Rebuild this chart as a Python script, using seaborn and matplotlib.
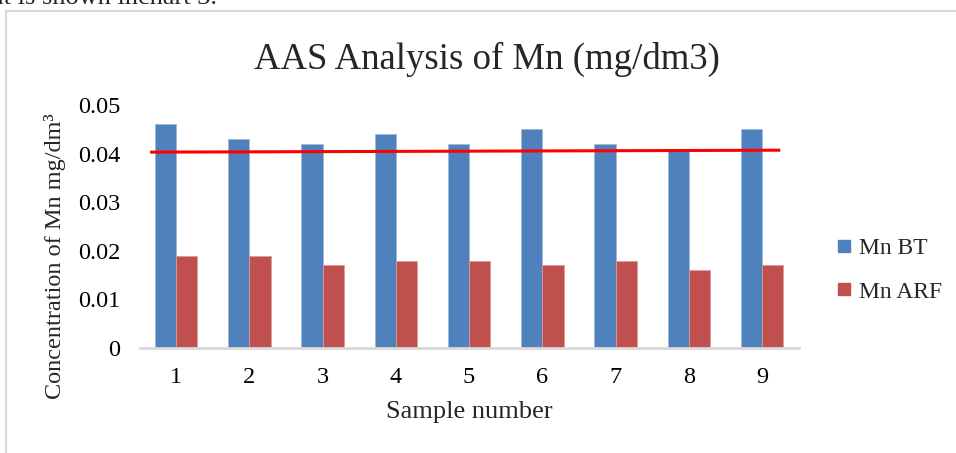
import matplotlib
matplotlib.use("Agg")
import matplotlib.pyplot as plt
import seaborn as sns
import pandas as pd
from matplotlib.lines import Line2D

# ---- data ----
samples = ["1", "2", "3", "4", "5", "6", "7", "8", "9"]
mn_bt = [0.046, 0.043, 0.042, 0.044, 0.042, 0.045, 0.042, 0.041, 0.045]
mn_arf = [0.019, 0.019, 0.017, 0.018, 0.018, 0.017, 0.018, 0.016, 0.017]
series_names = ["Mn BT", "Mn ARF"]
ref_line = [0.0403, 0.0407]   # red reference line (start, end values)
yticks = [0, 0.01, 0.02, 0.03, 0.04, 0.05]
ytick_labels = ["0", "0.01", "0.02", "0.03", "0.04", "0.05"]

df = pd.DataFrame({
    "Sample": samples * 2,
    "Value": mn_bt + mn_arf,
    "Series": [series_names[0]] * len(samples) + [series_names[1]] * len(samples),
})

sns.set_theme(style="white")
plt.rcParams["font.family"] = ["Liberation Serif", "DejaVu Serif"]

W, H = 956, 453
fig = plt.figure(figsize=(W / 100, H / 100), dpi=100)
ax = fig.add_axes([139.5 / W, 1 - 348 / H, (798.6 - 139.5) / W, (348 - 105) / H])

palette = {"Mn BT": "#4F81BD", "Mn ARF": "#C0504D"}
sns.barplot(data=df, x="Sample", y="Value", hue="Series", palette=palette,
            width=0.58, ax=ax, legend=False, saturation=1,
            edgecolor="#9DB9DC", linewidth=0.6)
for p in ax.patches[len(samples):]:
    p.set_edgecolor("#DC9A98")

# red reference line
ax.plot([-0.355, 8.25], ref_line, color="#FF0000", lw=2.2, solid_capstyle="butt")

ax.set_xlim(-0.5, len(samples) - 0.5)
ax.set_ylim(0, 0.05)
ax.set_yticks(yticks)
ax.set_yticklabels(ytick_labels)
ax.tick_params(axis="both", labelsize=17.5, length=0, colors="#000000")
ax.tick_params(axis="y", pad=14)
ax.tick_params(axis="x", pad=14)
for s in ["top", "right", "left"]:
    ax.spines[s].set_visible(False)
ax.spines["bottom"].set_color("#D9D9D9")
ax.spines["bottom"].set_linewidth(2)
ax.set_xlabel("Sample number", fontsize=19, labelpad=9)
ax.set_ylabel("")

fig.text(55 / W, 1 - 256 / H, "Concentration of Mn mg/dm\u00b3", rotation=90,
         ha="center", va="center", fontsize=17.5)

fig.text(487 / W, 1 - 59 / H, "AAS Analysis of Mn (mg/dm3)",
         ha="center", va="center", fontsize=26.5)

# legend
handles = [Line2D([], [], marker="s", ls="", markersize=9,
                  markerfacecolor=palette[n], markeredgecolor=palette[n]) for n in series_names]
fig.legend(handles, series_names, loc="center left",
           bbox_to_anchor=(814 / W, 1 - 270 / H), frameon=False, fontsize=17,
           handlelength=0.7, handletextpad=0.3, labelspacing=0.95)

# chart frame (top and left border)
fig.add_artist(Line2D([6 / W, 6 / W], [0, 1 - 11 / H], transform=fig.transFigure,
                      color="#D9D9D9", lw=1.5))
fig.add_artist(Line2D([6 / W, 1], [1 - 11 / H, 1 - 11 / H], transform=fig.transFigure,
                      color="#D9D9D9", lw=1.5))

# clipped document text above the chart
fig.text(-8 / W, 1 - 4 / H, "at is shown inchart 3.", ha="left", va="baseline", fontsize=19)

fig.savefig("out.png", dpi=100)
